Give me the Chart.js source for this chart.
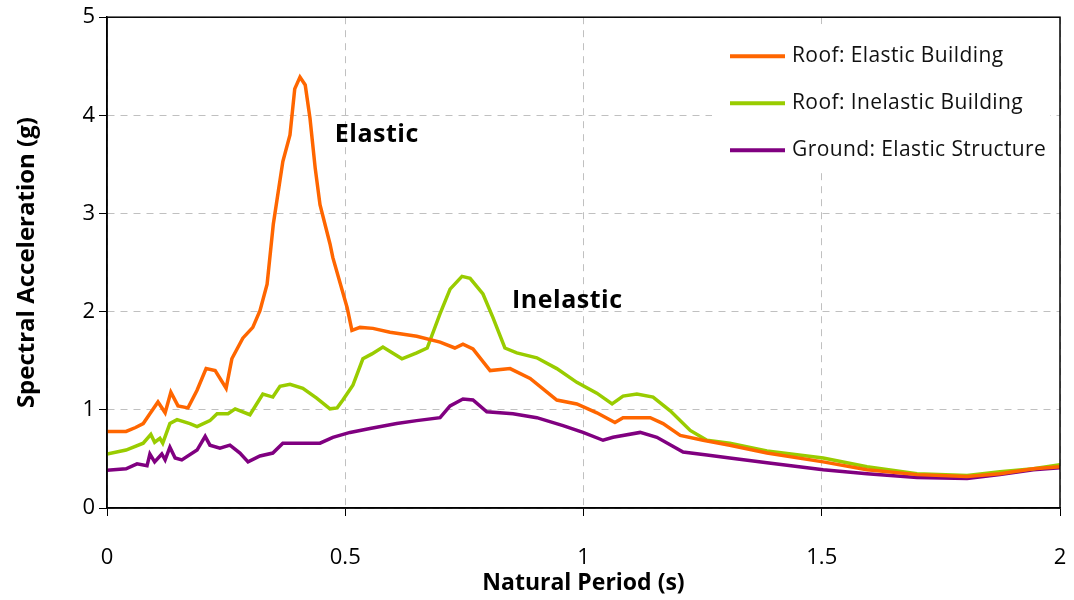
<!DOCTYPE html>
<html>
<head>
<meta charset="utf-8">
<script src="https://cdn.jsdelivr.net/npm/chart.js@4/dist/chart.umd.min.js"></script>
<style>
  html, body { margin: 0; padding: 0; background: #fff; }
  #wrap { width: 1074px; height: 600px; }
</style>
</head>
<body>
<div id="wrap"><canvas id="spectraChart" width="1074" height="600"></canvas></div>
<script>
// Periodi (s) e accelerazioni spettrali (g) delle tre curve
const periodElastic = [0, 0.04, 0.06, 0.076, 0.09, 0.107, 0.122, 0.134, 0.149, 0.17, 0.189, 0.208, 0.227, 0.25, 0.262, 0.285, 0.306, 0.321, 0.336, 0.349, 0.369, 0.384, 0.394, 0.405, 0.416, 0.426, 0.437, 0.447, 0.468, 0.474, 0.504, 0.514, 0.531, 0.558, 0.594, 0.65, 0.699, 0.73, 0.747, 0.768, 0.804, 0.846, 0.888, 0.944, 0.986, 1.028, 1.066, 1.083, 1.14, 1.167, 1.203, 1.251, 1.307, 1.385, 1.503, 1.595, 1.70, 1.805, 1.874, 1.944, 2.0];
const saElastic = [0.78, 0.78, 0.82, 0.86, 0.96, 1.08, 0.97, 1.18, 1.04, 1.02, 1.2, 1.42, 1.40, 1.22, 1.52, 1.73, 1.84, 2.01, 2.28, 2.89, 3.53, 3.80, 4.27, 4.39, 4.31, 3.97, 3.46, 3.09, 2.69, 2.55, 2.04, 1.81, 1.84, 1.83, 1.79, 1.75, 1.69, 1.63, 1.67, 1.62, 1.40, 1.42, 1.32, 1.10, 1.06, 0.97, 0.87, 0.92, 0.92, 0.86, 0.74, 0.69, 0.64, 0.56, 0.47, 0.39, 0.34, 0.32, 0.35, 0.40, 0.42];

const periodInelastic = [0, 0.04, 0.076, 0.092, 0.10, 0.111, 0.117, 0.132, 0.147, 0.174, 0.189, 0.216, 0.231, 0.254, 0.269, 0.30, 0.327, 0.348, 0.363, 0.384, 0.411, 0.44, 0.468, 0.483, 0.495, 0.516, 0.537, 0.556, 0.579, 0.619, 0.65, 0.672, 0.699, 0.72, 0.745, 0.762, 0.789, 0.81, 0.835, 0.86, 0.902, 0.944, 0.986, 1.028, 1.06, 1.083, 1.112, 1.146, 1.182, 1.224, 1.259, 1.307, 1.385, 1.503, 1.595, 1.70, 1.805, 1.874, 1.944, 2.0];
const saInelastic = [0.55, 0.59, 0.66, 0.75, 0.67, 0.71, 0.66, 0.86, 0.90, 0.86, 0.83, 0.89, 0.96, 0.96, 1.01, 0.95, 1.16, 1.13, 1.24, 1.26, 1.22, 1.12, 1.01, 1.02, 1.10, 1.25, 1.52, 1.57, 1.64, 1.52, 1.58, 1.63, 1.98, 2.23, 2.36, 2.34, 2.18, 1.94, 1.63, 1.58, 1.53, 1.42, 1.28, 1.17, 1.06, 1.14, 1.16, 1.13, 0.99, 0.79, 0.69, 0.66, 0.58, 0.51, 0.42, 0.35, 0.33, 0.37, 0.40, 0.44];

const periodGround = [0, 0.04, 0.063, 0.084, 0.09, 0.10, 0.115, 0.122, 0.132, 0.143, 0.157, 0.189, 0.206, 0.216, 0.237, 0.258, 0.279, 0.296, 0.321, 0.348, 0.369, 0.405, 0.447, 0.474, 0.51, 0.552, 0.608, 0.65, 0.699, 0.72, 0.747, 0.768, 0.797, 0.852, 0.902, 0.957, 0.999, 1.041, 1.062, 1.119, 1.154, 1.209, 1.259, 1.307, 1.385, 1.503, 1.595, 1.70, 1.805, 1.874, 1.944, 2.0];
const saGround = [0.385, 0.40, 0.45, 0.43, 0.55, 0.47, 0.55, 0.49, 0.62, 0.51, 0.49, 0.59, 0.73, 0.64, 0.61, 0.64, 0.56, 0.47, 0.53, 0.56, 0.66, 0.66, 0.66, 0.72, 0.77, 0.81, 0.86, 0.89, 0.92, 1.04, 1.11, 1.10, 0.98, 0.96, 0.92, 0.84, 0.77, 0.69, 0.72, 0.77, 0.72, 0.57, 0.54, 0.51, 0.46, 0.39, 0.35, 0.31, 0.30, 0.34, 0.39, 0.41];

const seriesNames = ['Roof: Elastic Building', 'Roof: Inelastic Building', 'Ground: Elastic Structure'];
const xTicks = [0, 0.5, 1, 1.5, 2];
const yTicks = [0, 1, 2, 3, 4, 5];

// Etichette di testo sul grafico
const notes = [
    { text: 'Elastic', x: 0.478, y: 3.80 },
    { text: 'Inelastic', x: 0.85, y: 2.11 }
];

const FONT = '"Open Sans", sans-serif';

function toPoints(xs, ys) {
    return xs.map((x, i) => ({ x: x, y: ys[i] }));
}

// Cornice nera attorno all'area del grafico
const frame = {
    id: 'frame',
    afterDatasetsDraw(chart) {
        const { ctx, chartArea: a } = chart;
        ctx.save();
        ctx.strokeStyle = '#000';
        ctx.lineWidth = 1.5;
        ctx.strokeRect(a.left, a.top, a.right - a.left, a.bottom - a.top);
        ctx.restore();
    }
};

// Scritte "Elastic" / "Inelastic"
const labels = {
    id: 'labels',
    afterDatasetsDraw(chart) {
        const { ctx, scales } = chart;
        ctx.save();
        ctx.fillStyle = '#000';
        ctx.font = 'bold 25px ' + FONT;
        ctx.letterSpacing = '0.5px';
        ctx.textAlign = 'left';
        ctx.textBaseline = 'middle';
        notes.forEach(n => {
            ctx.fillText(n.text, scales.x.getPixelForValue(n.x), scales.y.getPixelForValue(n.y));
        });
        ctx.restore();
    }
};

// Legenda dentro l'area del grafico, con sfondo bianco
const innerLegend = {
    id: 'innerLegend',
    afterDatasetsDraw(chart) {
        const { ctx, chartArea: a } = chart;
        const boxLeft = a.right - 348, boxTop = a.top + 7;
        ctx.save();
        ctx.fillStyle = '#fff';
        ctx.fillRect(boxLeft, boxTop, 338, 148);
        ctx.font = '21px ' + FONT;
        ctx.letterSpacing = '0.4px';
        ctx.textBaseline = 'middle';
        chart.data.datasets.forEach((ds, i) => {
            const y = boxTop + 32 + i * 47;
            ctx.strokeStyle = ds.borderColor;
            ctx.lineWidth = 4;
            ctx.beginPath();
            ctx.moveTo(boxLeft + 18, y);
            ctx.lineTo(boxLeft + 73, y);
            ctx.stroke();
            ctx.fillStyle = '#111';
            ctx.fillText(ds.label, boxLeft + 80, y);
        });
        ctx.restore();
    }
};

const ctx = document.getElementById('spectraChart').getContext('2d');

new Chart(ctx, {
    type: 'line',
    data: {
        datasets: [
            { label: seriesNames[0], data: toPoints(periodElastic, saElastic), borderColor: '#ff6600' },
            { label: seriesNames[1], data: toPoints(periodInelastic, saInelastic), borderColor: '#99cc00' },
            { label: seriesNames[2], data: toPoints(periodGround, saGround), borderColor: '#800080' }
        ]
    },
    options: {
        responsive: false,
        animation: false,
        layout: { padding: { top: 13, right: 14, left: 0, bottom: 0 } },
        elements: {
            line: { borderWidth: 3.5, tension: 0, fill: false },
            point: { radius: 0, hoverRadius: 0 }
        },
        plugins: {
            legend: { display: false },
            tooltip: { enabled: false }
        },
        scales: {
            x: {
                type: 'linear',
                min: 0,
                max: 2,
                afterBuildTicks: axis => { axis.ticks = xTicks.map(v => ({ value: v })); },
                afterFit: axis => {
                    axis.height = 92;
                    axis.paddingLeft = 0;
                    axis.paddingRight = 0;
                },
                ticks: {
                    color: '#000',
                    padding: 29,
                    font: { family: FONT, size: 22 },
                    maxRotation: 0,
                    callback: v => String(v)
                },
                grid: {
                    color: '#c0c0c0',
                    lineWidth: 1,
                    tickColor: '#000',
                    tickLength: 8,
                    tickBorderDash: []
                },
                border: { display: true, color: '#000', width: 1.5, dash: [7, 6] },
                title: {
                    display: true,
                    text: 'Natural Period (s)',
                    color: '#000',
                    font: { family: FONT, size: 23, weight: 'bold' },
                    padding: { top: 0, bottom: 3 }
                }
            },
            y: {
                min: 0,
                max: 5,
                afterBuildTicks: axis => { axis.ticks = yTicks.map(v => ({ value: v })); },
                afterFit: axis => { axis.width = 107; },
                ticks: {
                    color: '#000',
                    padding: 4,
                    font: { family: FONT, size: 22 },
                    callback: v => String(v)
                },
                grid: {
                    color: '#c0c0c0',
                    lineWidth: 1,
                    tickColor: '#000',
                    tickLength: 8,
                    tickBorderDash: []
                },
                border: { display: true, color: '#000', width: 1.5, dash: [7, 6] },
                title: {
                    display: true,
                    text: 'Spectral Acceleration (g)',
                    color: '#000',
                    font: { family: FONT, size: 24, weight: 'bold' },
                    padding: { top: 13, bottom: 0 }
                }
            }
        }
    },
    plugins: [innerLegend, labels, frame]
});
</script>
</body>
</html>
